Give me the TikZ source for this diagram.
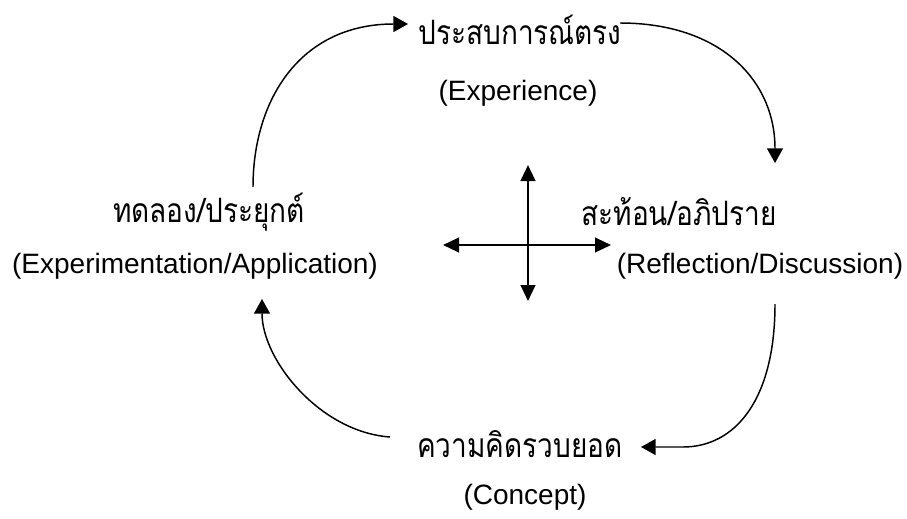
\documentclass[tikz,border=0pt]{standalone}
\usepackage{fontspec}
\setmainfont{Liberation Sans}
\newfontfamily\thaifont[Script=Thai]{Loma}
\usetikzlibrary{arrows.meta}
\newcommand{\thaitext}[1]{\scalebox{1}[1.2]{\thaifont #1}}

\begin{document}
\begin{tikzpicture}[x=0.75pt,y=-0.75pt,
    stage/.style={font=\fontsize{21}{25}\selectfont, inner sep=0pt},
    gloss/.style={font=\fontsize{21}{25}\selectfont, inner sep=0pt},
    cycle arrow/.style={line width=1.1pt, -{Triangle[length=11pt,width=12pt]}},
    cross arrow/.style={line width=1.6pt, {Triangle[length=12pt,width=11pt]}-{Triangle[length=12pt,width=11pt]}}]
    \useasboundingbox (0,0) rectangle (907,518);

    % Experience (top)
    \node[stage] (exp) at (520,30) {\thaitext{ประสบการณ์ตรง}};
    \node[gloss] (expEn) at (518,93) {(Experience)};

    % Reflection (right)
    \node[stage] (refl) at (679,212) {\thaitext{สะท้อน/อภิปราย}};
    \node[gloss] (reflEn) at (760,266) {(Reflection/Discussion)};

    % Concept (bottom)
    \node[stage] (conc) at (520,444) {\thaitext{ความคิดรวบยอด}};
    \node[gloss] (concEn) at (525,497) {(Concept)};

    % Application (left)
    \node[stage] (appl) at (209,212) {\thaitext{ทดลอง/ประยุกต์}};
    \node[gloss] (applEn) at (195,266) {(Experimentation/Application)};

    % ends of the cycle arrows
    \coordinate (aplOut) at (253,187);
    \coordinate (expIn) at (408,24);
    \coordinate (expOut) at (620,23);
    \coordinate (reflIn) at (775,163);
    \coordinate (reflOut) at (775,304);
    \coordinate (concTurn) at (683,447);
    \coordinate (concIn) at (641,447);
    \coordinate (concOut) at (390,437);
    \coordinate (applIn) at (262,299);

    % Cycle
    \draw[cycle arrow] (aplOut) .. controls (253,100) and (300,24) .. (expIn);
    \draw[cycle arrow] (expOut) .. controls (720,23) and (775,80) .. (reflIn);
    \draw[cycle arrow] (reflOut) .. controls (775,400) and (735,447) .. (concTurn) -- (concIn);
    \draw[cycle arrow] (concOut) .. controls (320,432) and (262,360) .. (applIn);

    % Cross in the middle
    \coordinate (crossN) at (528,165);
    \coordinate (crossS) at (528,301);
    \coordinate (crossW) at (443,245);
    \coordinate (crossE) at (611,245);
    \draw[cross arrow] (crossS) -- (crossN);
    \draw[cross arrow] (crossW) -- (crossE);
\end{tikzpicture}
\end{document}
